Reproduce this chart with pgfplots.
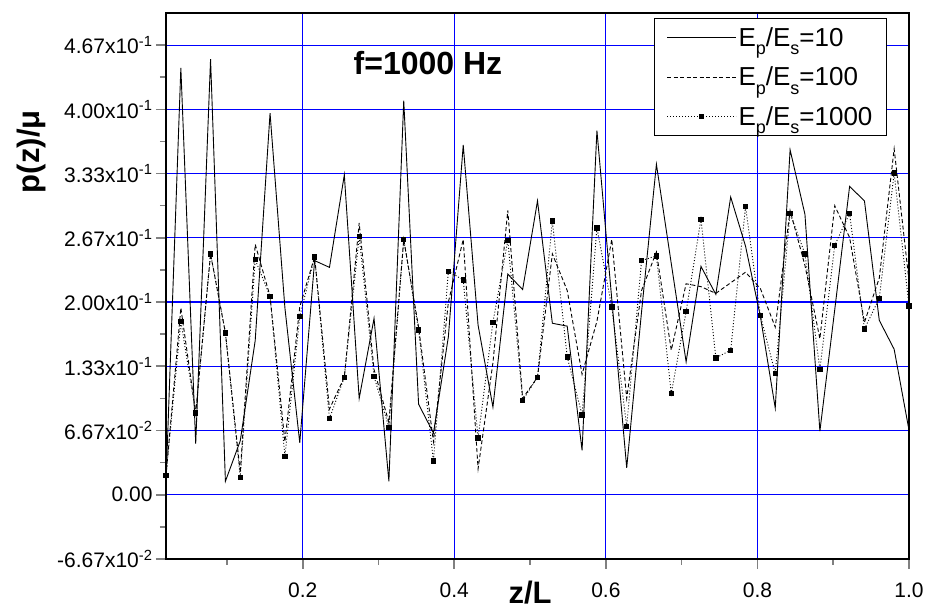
\documentclass[border=0pt]{standalone}
\usepackage{pgfplots}
\pgfplotsset{compat=1.18}
\usepackage{pgfplotstable}
\usepackage{fontspec}
\setmainfont{Liberation Sans}
\definecolor{gridblue}{RGB}{0,0,255}
\newcommand\lsub[1]{\raisebox{-0.32em}{\fontsize{18}{20}\selectfont #1}}

\pgfplotstableread{
x      a      b      c
0.0196 0.013  0.020  0.020
0.0392 0.443  0.194  0.180
0.0588 0.053  0.085  0.085
0.0784 0.452  0.250  0.250
0.0980 0.014  0.168  0.168
0.1176 0.056  0.023  0.018
0.1373 0.160  0.260  0.244
0.1569 0.396  0.206  0.206
0.1765 0.194  0.055  0.040
0.1961 0.054  0.195  0.185
0.2157 0.243  0.247  0.247
0.2353 0.236  0.089  0.079
0.2549 0.332  0.122  0.122
0.2745 0.100  0.282  0.268
0.2941 0.183  0.130  0.123
0.3137 0.014  0.075  0.070
0.3333 0.409  0.265  0.265
0.3529 0.094  0.174  0.171
0.3725 0.064  0.055  0.035
0.3922 0.164  0.200  0.232
0.4118 0.363  0.265  0.223
0.4314 0.176  0.027  0.059
0.4510 0.091  0.137  0.179
0.4706 0.229  0.295  0.264
0.4902 0.213  0.100  0.098
0.5098 0.305  0.122  0.122
0.5294 0.178  0.250  0.284
0.5490 0.175  0.212  0.143
0.5686 0.046  0.125  0.083
0.5882 0.378  0.180  0.277
0.6078 0.203  0.265  0.195
0.6275 0.028  0.100  0.071
0.6471 0.190  0.212  0.243
0.6667 0.343  0.252  0.248
0.6863 0.240  0.150  0.105
0.7059 0.138  0.219  0.190
0.7255 0.237  0.216  0.286
0.7451 0.208  0.209  0.142
0.7647 0.309  0.220  0.150
0.7843 0.258  0.231  0.299
0.8039 0.185  0.214  0.186
0.8235 0.090  0.174  0.126
0.8431 0.358  0.295  0.292
0.8627 0.291  0.238  0.250
0.8824 0.066  0.162  0.130
0.9020 0.192  0.300  0.259
0.9216 0.320  0.267  0.292
0.9412 0.305  0.179  0.172
0.9608 0.181  0.225  0.204
0.9804 0.151  0.359  0.334
1.0000 0.067  0.222  0.196
}\datatable

\begin{document}
\begin{tikzpicture}
\begin{axis}[
  scale only axis,
  width=743pt, height=546pt,
  xmin=0.0196, xmax=1.0,
  ymin=-0.0666667, ymax=0.5,
  axis line style={line width=2pt, black},
  clip mode=individual,
  xtick={0.2,0.4,0.6,0.8,1.0},
  xticklabels={0.2,0.4,0.6,0.8,1.0},
  minor xtick={0.1,0.3,0.5,0.7,0.9},
  ytick={-0.0666667,0,0.0666667,0.1333333,0.2,0.2666667,0.3333333,0.4,0.4666667},
  yticklabels={-6.67x10\textsuperscript{-2},0.00,6.67x10\textsuperscript{-2},1.33x10\textsuperscript{-1},2.00x10\textsuperscript{-1},2.67x10\textsuperscript{-1},3.33x10\textsuperscript{-1},4.00x10\textsuperscript{-1},4.67x10\textsuperscript{-1}},
  minor ytick={-0.0333333,0.0333333,0.1,0.1666667,0.2333333,0.3,0.3666667,0.4333333},
  tick align=outside,
  xtick pos=left, ytick pos=left,
  major tick length=10pt, minor tick length=6pt,
  tick style={line width=1.6pt},
  grid=major,
  major grid style={draw=gridblue, line width=1.2pt},
  ticklabel style={font=\fontsize{21}{25}\selectfont},
  xticklabel style={yshift=-10pt},
  xlabel={z/L},
  xlabel style={font=\fontsize{31}{36}\selectfont\bfseries, at={(axis description cs:0.49,0)}, anchor=north, yshift=-22pt, inner sep=0pt},
  ylabel={p(z)/μ},
  ylabel style={font=\fontsize{31}{36}\selectfont\bfseries, at={(axis description cs:-0.1817,0.746)}, anchor=center, inner sep=0pt},
  legend style={at={(axis description cs:1,1)}, anchor=north east, xshift=-22pt, yshift=-5pt,
    draw=black, line width=1.1pt, fill=white, font=\fontsize{26}{29}\selectfont, inner xsep=12pt, inner ysep=7pt,
    row sep=15pt, cells={anchor=west}},
  legend image code/.code={\draw[mark repeat=2,mark phase=2,#1] plot coordinates {(0pt,0pt) (34.5pt,0pt) (69pt,0pt)};},
]
\addplot[black, line width=0.9pt] table[x=x,y=a] {\datatable};
\addlegendentry{E\lsub{p}/E\lsub{s}=10}
\addplot[black, line width=0.9pt, dash pattern=on 4pt off 2.5pt] table[x=x,y=b] {\datatable};
\addlegendentry{E\lsub{p}/E\lsub{s}=100}
\addplot[black, line width=0.9pt, dash pattern=on 1pt off 2pt, mark=square*, mark size=2.2pt, mark options={solid, fill=black}] table[x=x,y=c] {\datatable};
\addlegendentry{E\lsub{p}/E\lsub{s}=1000}
\node[anchor=west, font=\fontsize{32}{38}\selectfont\bfseries, inner sep=0pt] at (axis cs:0.267,0.448) {f=1000 Hz};
\end{axis}
\pgfresetboundingbox
\useasboundingbox (-166pt,-51pt) rectangle (763pt,559pt);
\end{tikzpicture}
\end{document}
